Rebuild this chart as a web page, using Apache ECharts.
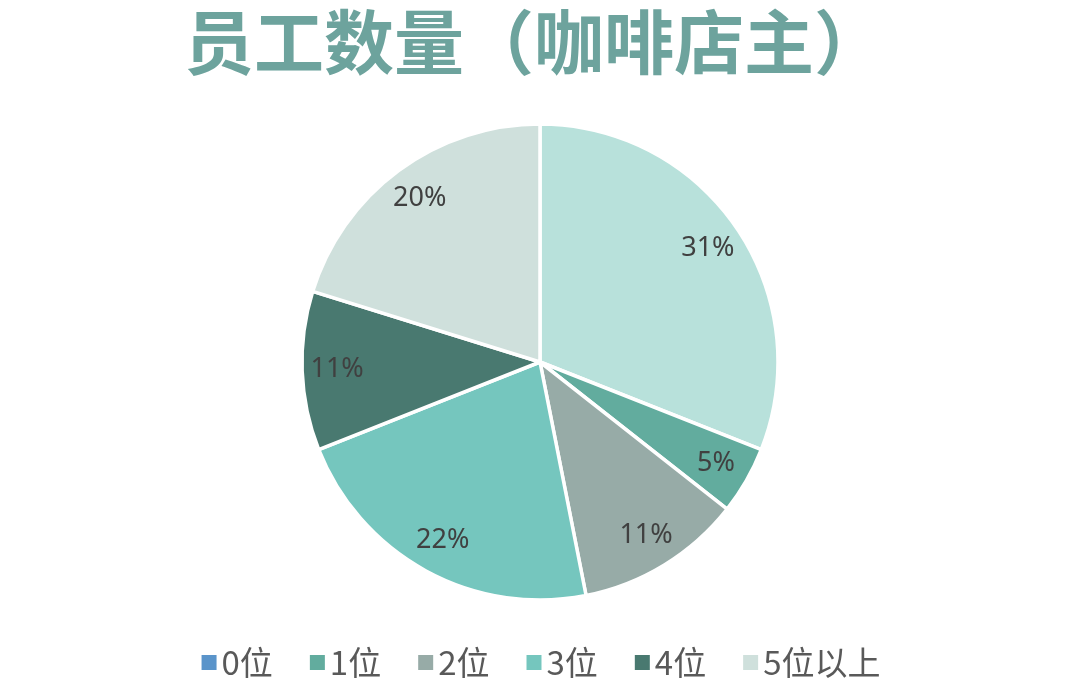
<!DOCTYPE html>
<html>
<head>
<meta charset="utf-8">
<script src="https://cdn.jsdelivr.net/npm/echarts@6/dist/echarts.min.js"></script>
<style>html,body{margin:0;padding:0;background:#fff}#c{width:1080px;height:692px}</style>
</head>
<body>
<div id="c"></div>
<script>
const titleText = '员工数量（咖啡店主）';
const categories = ['0位', '1位', '2位', '3位', '4位', '5位以上'];
const values = [31, 4.6, 11.3, 22.1, 10.8, 20.2];
const sliceColors = ['#B8E1DB', '#62AC9E', '#97ABA7', '#75C6BE', '#497970', '#CFE0DC'];
const legendColors = ['#5A94CA', '#62AC9E', '#97ABA7', '#75C6BE', '#497970', '#CFE0DC'];

const chart = echarts.init(document.getElementById('c'));
const pieData = categories.map((n, i) => ({ name: n, value: values[i], itemStyle: { color: sliceColors[i] } }));
const labelData = categories.map((n, i) => ({ name: n, value: values[i] }));

chart.setOption({
  backgroundColor: '#fff',
  animation: false,
  title: {
    text: titleText,
    left: 184,
    top: 2,
    padding: 0,
    textStyle: { fontFamily: 'Noto Sans CJK SC', fontWeight: 'bold', fontSize: 70, lineHeight: 80, color: '#6DA39D' }
  },
  legend: {
    bottom: 8,
    left: 'center',
    itemWidth: 17,
    itemHeight: 17,
    itemGap: 35,
    icon: 'rect',
    textStyle: { fontFamily: 'Noto Sans CJK SC', fontSize: 33, color: '#595959', padding: [0, 0, 0, -1] },
    data: categories.map((n, i) => ({ name: n, itemStyle: { color: legendColors[i] } }))
  },
  series: [
    {
      type: 'pie',
      center: [540, 362],
      radius: [0, 238],
      startAngle: 90,
      clockwise: true,
      silent: true,
      avoidLabelOverlap: false,
      itemStyle: { borderColor: '#fff', borderWidth: 3.5 },
      label: { show: false },
      labelLine: { show: false },
      data: pieData
    },
    {
      type: 'pie',
      center: [540, 362],
      radius: [0, 400],
      startAngle: 90,
      clockwise: true,
      silent: true,
      avoidLabelOverlap: false,
      itemStyle: { color: 'rgba(0,0,0,0)', borderWidth: 0 },
      label: {
        show: true,
        position: 'inside',
        fontFamily: 'Noto Sans',
        fontSize: 27,
        color: '#404040',
        formatter: p => Math.round(p.percent) + '%'
      },
      labelLine: { show: false },
      data: labelData
    }
  ]
});
</script>
</body>
</html>
